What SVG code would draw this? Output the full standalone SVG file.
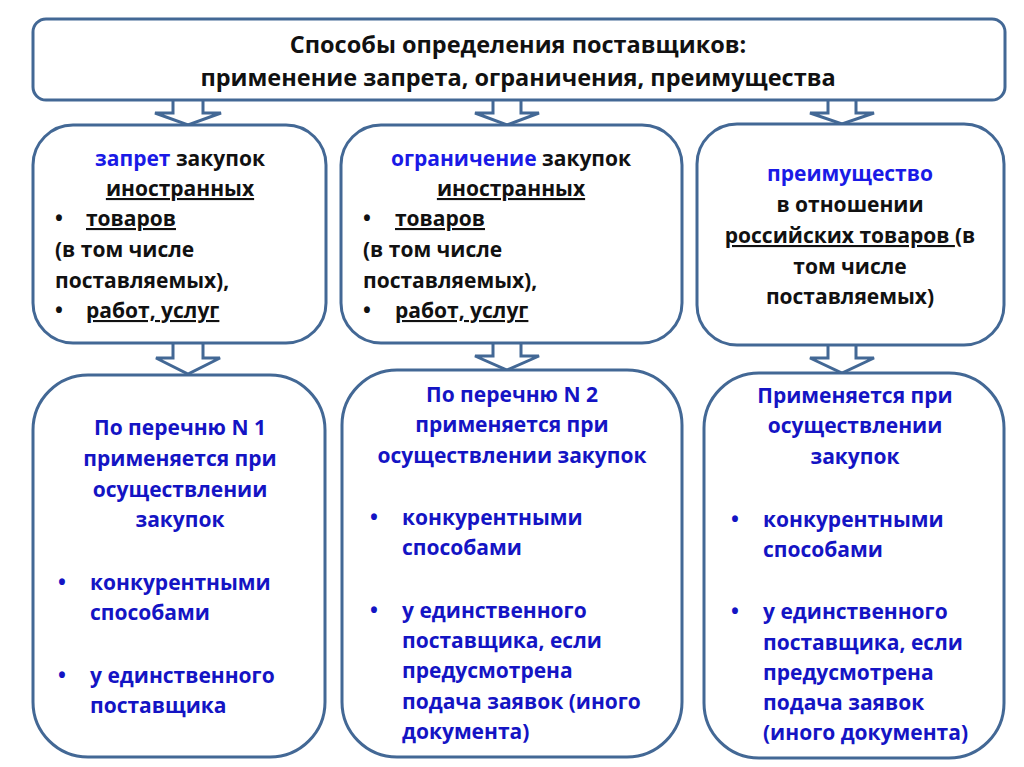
<svg xmlns="http://www.w3.org/2000/svg" width="1024" height="767" viewBox="0 0 1024 767">
<style>
.box{fill:#fff;stroke:#436895;stroke-width:3}
.arr{fill:#fff;stroke:#436895;stroke-width:3;stroke-linejoin:miter}
text{font-family:"Open Sans","Noto Sans","Liberation Sans",sans-serif;font-weight:bold;font-size:21px;fill:#111}
.t{font-size:23.5px}
.c{text-anchor:middle}
.b1{fill:#1a1ae6}
.b2{fill:#1414c4}
.u{text-decoration:underline}
</style>
<rect width="1024" height="767" fill="#fff"/>
<g id="connectors">
<path class="arr" d="M173,100 V113 H155 L188,125 L221,113 H203 V100"/>
<path class="arr" d="M493,100 V113 H475 L507,125 L539,113 H521 V100"/>
<path class="arr" d="M828,100 V113 H810 L842,124 L874,113 H856 V100"/>
<path class="arr" d="M173,343 V358 H156 L188,374 L220,358 H203 V343"/>
<path class="arr" d="M493,343 V356 H475 L507,370 L539,356 H521 V343"/>
<path class="arr" d="M828,345 V358 H810 L842,373 L874,358 H856 V345"/>
</g>
<g id="title">
<rect class="box" x="33" y="19" width="972" height="81" rx="13"/>
<text class="c t" x="518" y="53">Способы определения поставщиков:</text>
<text class="c t" x="518" y="86">применение запрета, ограничения, преимущества</text>
</g>
<g id="ban">
<rect class="box" x="33" y="125" width="293" height="218" rx="40"/>
<text class="c" x="180" y="166"><tspan class="b1">запрет</tspan> закупок</text>
<text class="c" x="180" y="196"><tspan class="u">иностранных</tspan></text>
<text x="55" y="226">•</text><text x="86" y="226"><tspan class="u">товаров</tspan></text>
<text x="55" y="257">(в том числе</text>
<text x="55" y="288">поставляемых),</text>
<text x="55" y="318">•</text><text x="86" y="318"><tspan class="u">работ, услуг</tspan></text>
</g>
<g id="restriction">
<rect class="box" x="341" y="125" width="341" height="218" rx="40"/>
<text class="c" x="511" y="166"><tspan class="b1">ограничение</tspan> закупок</text>
<text class="c" x="511" y="196"><tspan class="u">иностранных</tspan></text>
<text x="363" y="226">•</text><text x="395" y="226"><tspan class="u">товаров</tspan></text>
<text x="363" y="257">(в том числе</text>
<text x="363" y="288">поставляемых),</text>
<text x="363" y="318">•</text><text x="395" y="318"><tspan class="u">работ, услуг</tspan></text>
</g>
<g id="preference">
<rect class="box" x="697" y="124" width="307" height="221" rx="40"/>
<text class="c b1" x="850" y="181">преимущество</text>
<text class="c" x="850" y="212">в отношении</text>
<text class="c" x="850" y="243" xml:space="preserve"><tspan class="u">российских товаров </tspan>(в</text>
<text class="c" x="850" y="274">том числе</text>
<text class="c" x="850" y="304">поставляемых)</text>
</g>
<g id="list1">
<rect class="box" x="33" y="375" width="292" height="382" rx="55"/>
<text class="c b2" x="180" y="435">По перечню N 1</text>
<text class="c b2" x="180" y="466">применяется при</text>
<text class="c b2" x="180" y="497">осуществлении</text>
<text class="c b2" x="180" y="527">закупок</text>
<text class="b2" x="58" y="590">•</text><text class="b2" x="90" y="590">конкурентными</text>
<text class="b2" x="90" y="620">способами</text>
<text class="b2" x="58" y="683">•</text><text class="b2" x="90" y="683">у единственного</text>
<text class="b2" x="90" y="713">поставщика</text>
</g>
<g id="list2">
<rect class="box" x="342" y="370" width="340" height="387" rx="55"/>
<text class="c b2" x="512" y="402">По перечню N 2</text>
<text class="c b2" x="512" y="432">применяется при</text>
<text class="c b2" x="512" y="463">осуществлении закупок</text>
<text class="b2" x="370" y="525">•</text><text class="b2" x="402" y="525">конкурентными</text>
<text class="b2" x="402" y="555">способами</text>
<text class="b2" x="370" y="618">•</text><text class="b2" x="402" y="618">у единственного</text>
<text class="b2" x="402" y="648">поставщика, если</text>
<text class="b2" x="402" y="678">предусмотрена</text>
<text class="b2" x="402" y="709">подача заявок (иного</text>
<text class="b2" x="402" y="739">документа)</text>
</g>
<g id="other">
<rect class="box" x="704" y="373" width="300" height="385" rx="55"/>
<text class="c b2" x="855" y="403">Применяется при</text>
<text class="c b2" x="855" y="433">осуществлении</text>
<text class="c b2" x="855" y="464">закупок</text>
<text class="b2" x="731" y="527">•</text><text class="b2" x="763" y="527">конкурентными</text>
<text class="b2" x="763" y="557">способами</text>
<text class="b2" x="731" y="619">•</text><text class="b2" x="763" y="619">у единственного</text>
<text class="b2" x="763" y="650">поставщика, если</text>
<text class="b2" x="763" y="680">предусмотрена</text>
<text class="b2" x="763" y="710">подача заявок</text>
<text class="b2" x="763" y="740">(иного документа)</text>
</g>
</svg>
